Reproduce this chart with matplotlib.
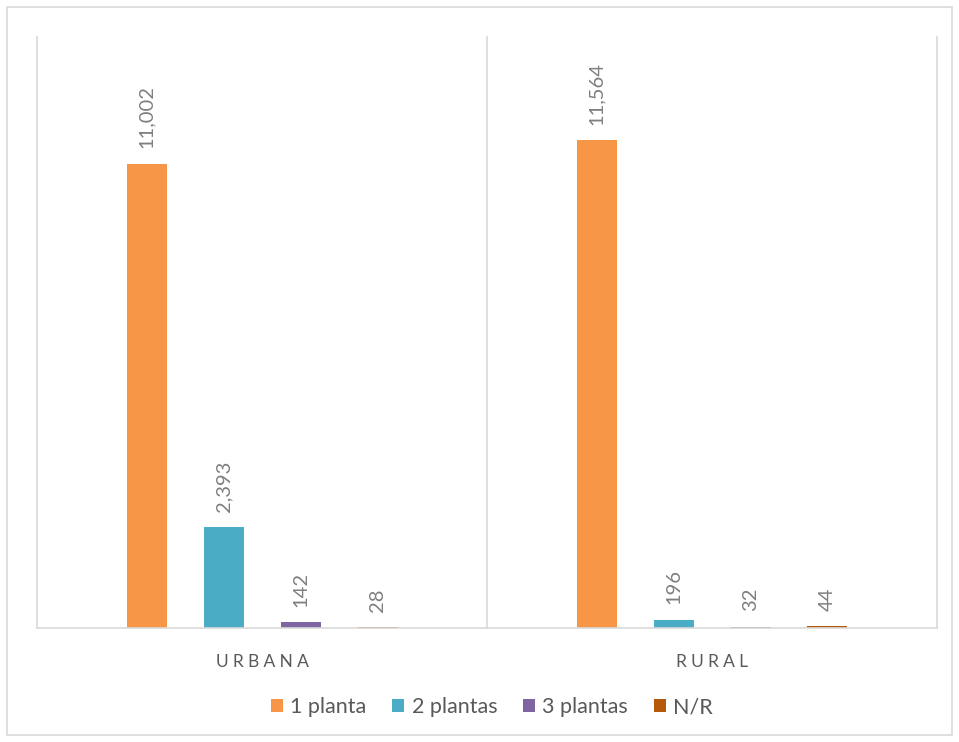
import numpy as np
import matplotlib
matplotlib.use("Agg")
import matplotlib.pyplot as plt
from matplotlib.patches import Rectangle

plt.rcParams['font.family'] = ['Lato', 'DejaVu Sans']

categories = ["URBANA", "RURAL"]
series = ["1 planta", "2 plantas", "3 plantas", "N/R"]
values = {
    "1 planta": [11002, 11564],
    "2 plantas": [2393, 196],
    "3 plantas": [142, 32],
    "N/R": [28, 44],
}
colors = ["#F79646", "#4BACC6", "#8064A2", "#B7590A"]

fig = plt.figure(figsize=(9.59, 7.42), dpi=100)
ax = fig.add_axes([37/959, 1 - 628/742, 900/959, 591/742])

x = np.arange(len(categories))
width = 40 / 450
step = 77 / 450
offsets = (np.arange(len(series)) - 1.5) * step

for i, s in enumerate(series):
    bars = ax.bar(x + offsets[i], values[s], width, color=colors[i], label=s)
    for b, v in zip(bars, values[s]):
        ax.annotate(f"{v:,}", (b.get_x() + b.get_width() / 2, b.get_height()),
                    xytext=(0, 11), textcoords="offset points",
                    rotation=90, ha="center", va="bottom",
                    fontsize=14.5, color="#7F7F7F")

ax.set_xlim(-0.5, 1.5)
ax.set_ylim(0, 14000)
ax.set_yticks([])
ax.set_xticks(x)
ax.set_xticklabels(["\u2009\u2009".join(c) for c in categories], fontsize=12.5, color="#595959")
ax.tick_params(axis="x", length=0, pad=19)

for sp in ["top", "right"]:
    ax.spines[sp].set_visible(False)
ax.spines["left"].set_color("#D9D9D9")
ax.spines["bottom"].set_color("#D9D9D9")
ax.spines["left"].set_linewidth(1.2)
ax.spines["bottom"].set_linewidth(1.2)
for xv in [0.5, 1.5]:
    ax.axvline(xv, color="#D9D9D9", lw=1.2, clip_on=False)

fig.legend(loc="center", bbox_to_anchor=(0.513, 0.047), ncol=4, frameon=False,
           handlelength=0.55, handleheight=0.55, handletextpad=0.35,
           columnspacing=1.2, fontsize=15.5, labelcolor="#595959")

fig.patches.append(Rectangle((7/959, 7/742), 945/959, 728/742, transform=fig.transFigure,
                             fill=False, edgecolor="#D9D9D9", lw=1.2))

fig.savefig("out.png", dpi=100)
